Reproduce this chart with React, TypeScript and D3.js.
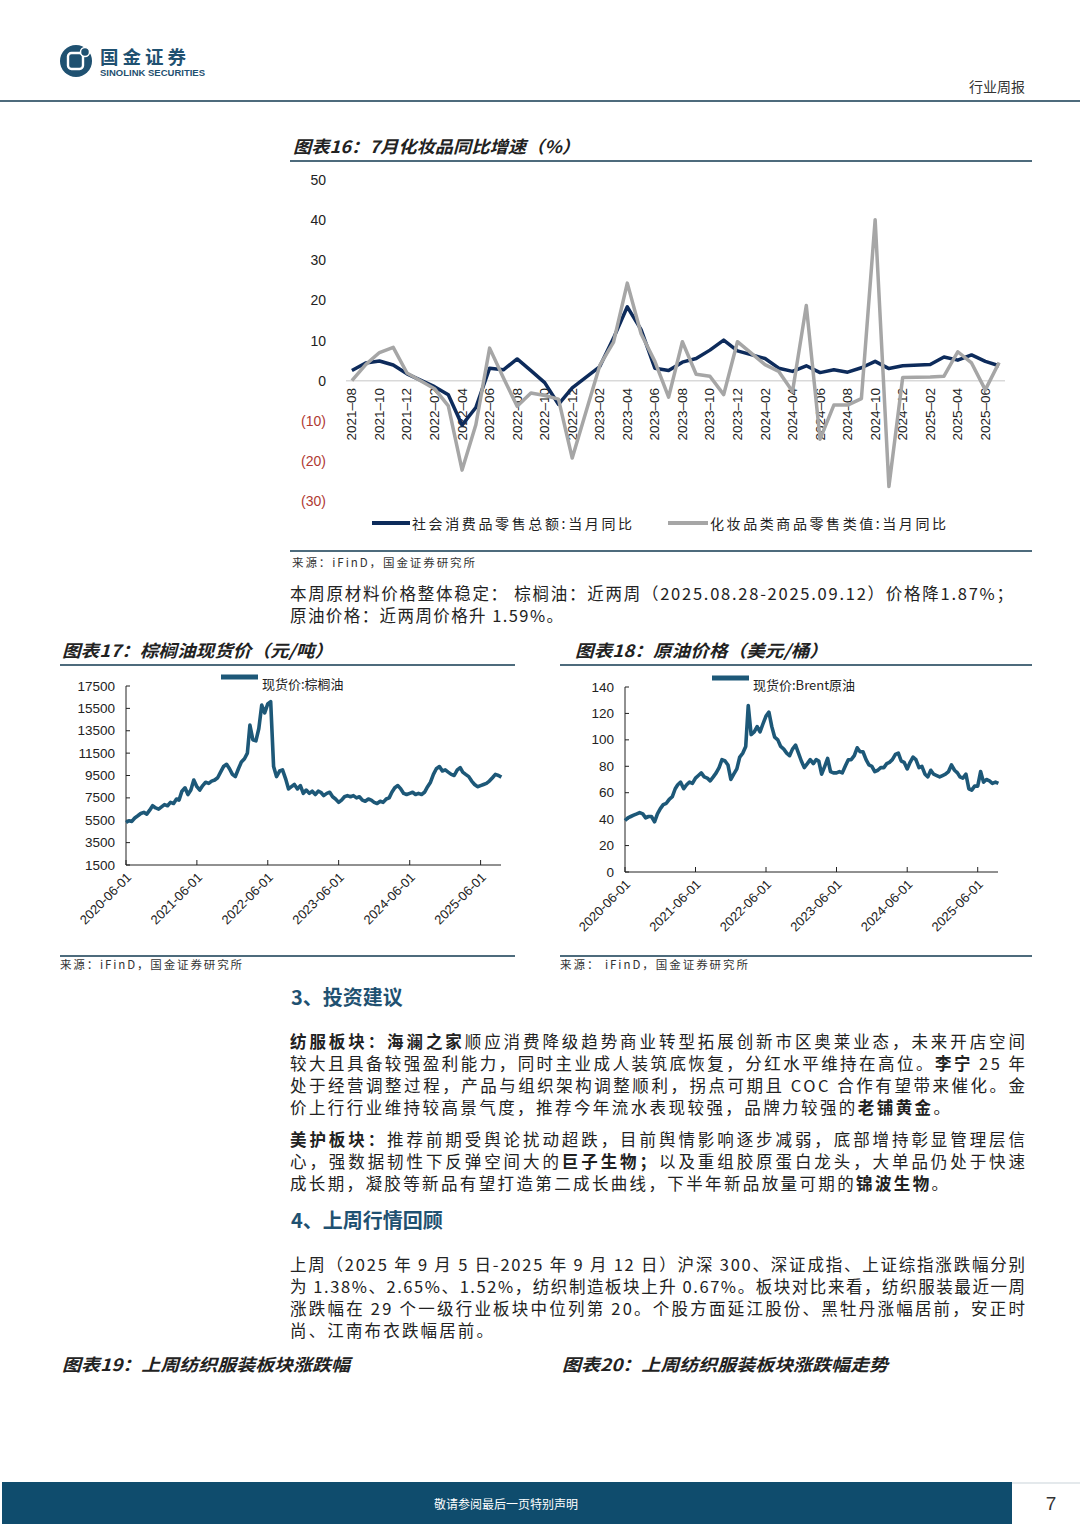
import React, { useEffect } from 'react'
import * as d3 from 'd3'

// 图表16：月度同比（%），1月无单独数据
const months16 = [
  '2021-08', '2021-09', '2021-10', '2021-11', '2021-12',
  '2022-01', '2022-02', '2022-03', '2022-04', '2022-05', '2022-06', '2022-07', '2022-08', '2022-09', '2022-10', '2022-11', '2022-12',
  '2023-01', '2023-02', '2023-03', '2023-04', '2023-05', '2023-06', '2023-07', '2023-08', '2023-09', '2023-10', '2023-11', '2023-12',
  '2024-01', '2024-02', '2024-03', '2024-04', '2024-05', '2024-06', '2024-07', '2024-08', '2024-09', '2024-10', '2024-11', '2024-12',
  '2025-01', '2025-02', '2025-03', '2025-04', '2025-05', '2025-06', '2025-07'
]
const retailYoY: (number | null)[] = [
  2.5, 4.4, 4.9, 3.9, 1.7,
  null, -1.5, -3.5, -11.1, -6.7, 3.1, 2.7, 5.4, 2.5, -0.5, -5.9, -1.8,
  null, 3.5, 10.6, 18.4, 12.7, 3.1, 2.5, 4.6, 5.5, 7.6, 10.1, 7.4,
  null, 5.5, 3.1, 2.3, 3.7, 2.0, 2.7, 2.1, 3.2, 4.8, 3.0, 3.7,
  null, 4.0, 5.9, 5.1, 6.4, 4.8, 3.7
]
const cosmeticsYoY: (number | null)[] = [
  0.0, 4.0, 7.0, 8.3, 1.9,
  null, -2.0, -6.3, -22.3, -11.0, 8.1, 0.7, -6.4, -3.1, -3.7, -4.6, -19.3,
  null, 3.8, 9.6, 24.3, 11.7, 4.8, -4.1, 9.7, 1.6, 1.1, -3.5, 9.7,
  null, 4.0, 2.3, -2.7, 18.7, -14.6, -6.1, -6.1, -4.5, 40.1, -26.4, 0.8,
  null, 0.9, 1.1, 7.2, 4.4, -2.3, 4.5
]
const yTicks16 = [-30, -20, -10, 0, 10, 20, 30, 40, 50]
const xLabels16 = months16.filter((_, i) => i % 2 === 0)

// 图表17 / 18：半月取样（每月1日、16日），起点 2020-06-01
const palmOil = [
  5300, 5450, 5400, 5700, 5900, 6100, 6200, 6050, 6400, 6800, 6600, 6500, 6700, 6900,
  6800, 7100, 7000, 7400, 7300, 8100, 8400, 7800, 8200, 9100, 8500, 8200, 8600, 8900, 8800, 9000, 9100, 9300, 9800, 10300, 10500, 10100, 9600, 9400,
  10100, 10700, 11000, 11500, 14000, 12700, 12600, 13700, 15800, 15100, 15900, 16100, 10300, 9400, 9900, 10000, 9200, 8300, 8500, 8700, 8300, 8600, 7900, 8200,
  7900, 8100, 7800, 8100, 8000, 7700, 7900, 8000, 7600, 7400, 7100, 7300, 7600, 7700, 7600, 7700, 7500, 7600, 7300, 7200, 7400, 7300, 7100, 7000,
  7200, 7100, 7400, 7500, 8000, 8400, 8600, 8300, 7900, 7800, 7900, 8000, 7800, 7900, 7800, 8000, 8500, 8900, 9600, 10100, 10300, 9900, 10000, 9800,
  9600, 9500, 10000, 10200, 9800, 9600, 9400, 9000, 8700, 8500, 8600, 8700, 8800, 9000, 9300, 9600, 9500, 9350
]
const brentOil = [
  39, 41, 42, 43, 44, 45, 44, 41, 42, 42, 38, 44, 48, 51,
  52, 55, 57, 63, 66, 68, 63, 66, 68, 67, 71, 73, 75, 72, 71, 69, 72, 75, 79, 85, 84, 81, 70, 74,
  78, 87, 90, 95, 126, 104, 106, 110, 106, 112, 118, 121, 110, 102, 100, 95, 93, 90, 88, 93, 96, 90, 84, 79,
  82, 85, 82, 85, 84, 74, 80, 86, 76, 75, 75, 76, 75, 80, 85, 85, 88, 94, 91, 91, 85, 81, 80, 76,
  77, 79, 79, 82, 83, 85, 89, 90, 84, 83, 78, 83, 87, 85, 79, 80, 74, 72, 77, 74, 73, 72, 73, 74,
  76, 81, 77, 75, 72, 71, 74, 63, 62, 65, 65, 76, 68, 70, 69, 67, 68, 67
]
const palmTicks = [1500, 3500, 5500, 7500, 9500, 11500, 13500, 15500, 17500]
const brentTicks = [0, 20, 40, 60, 80, 100, 120, 140]
const dateTicks = ['2020-06-01', '2021-06-01', '2022-06-01', '2023-06-01', '2024-06-01', '2025-06-01']
const axisStart = '2020-06-01'
const axisEnd = '2025-09-14'

const CJK = "'Noto Sans CJK SC', 'Noto Sans', sans-serif"
const LAT = "'Liberation Sans', Arial, sans-serif"
const TEAL = '#1f5171'
const RULE = '#4d6b7c'
const OIL = '#1d5878'

const parse = d3.timeParse('%Y-%m-%d')
const halfMonth = (i: number) => new Date(2020, 5 + Math.floor(i / 2), i % 2 ? 16 : 1)

type Part = [string, boolean?]

function JText({ x, y, w, parts, size = 16.5, color = '#222' }: { x: number; y: number; w?: number; parts: Part[]; size?: number; color?: string }) {
  return (
    <text x={x} y={y} dominantBaseline="central" fontFamily={CJK} fontSize={size} fill={color}
      textLength={w} lengthAdjust={w ? 'spacing' : undefined}>
      {parts.map(([t, b], i) => (
        <tspan key={i} fontWeight={b ? 700 : 400}>{t}</tspan>
      ))}
    </text>
  )
}

function Title({ x, y, w, text }: { x: number; y: number; w: number; text: string }) {
  return (
    <text x={x} y={y} dominantBaseline="central" fontFamily={CJK} fontSize={17} fontWeight={700}
      fontStyle="italic" fill="#222" textLength={w} lengthAdjust="spacingAndGlyphs">{text}</text>
  )
}

function Chart16() {
  const x = d3.scalePoint<string>().domain(months16).range([346, 1005]).padding(0.43)
  const y = d3.scaleLinear().domain([-30, 50]).range([501, 180])
  const path = (vals: (number | null)[]) => {
    const pts = months16.map((m, i) => [m, vals[i]] as [string, number | null]).filter(d => d[1] != null) as [string, number][]
    return d3.line<[string, number]>().x(d => x(d[0])!).y(d => y(d[1]))(pts) || ''
  }
  return (
    <g>
      <line x1={346} x2={1005} y1={y(0)} y2={y(0)} stroke="#d9d9d9" strokeWidth={1.5} />
      {yTicks16.map(t => (
        <text key={t} x={326} y={y(t)} textAnchor="end" dominantBaseline="central" fontFamily={LAT} fontSize={14}
          fill={t < 0 ? '#b03a33' : '#222'}>{t < 0 ? `(${-t})` : t}</text>
      ))}
      {xLabels16.map(m => (
        <text key={m} transform={`translate(${x(m)},${388}) rotate(-90)`} textAnchor="end" dominantBaseline="central"
          fontFamily={LAT} fontSize={13.5} fill="#222">{m.replace('-', '–')}</text>
      ))}
      <path d={path(retailYoY)} fill="none" stroke="#0d2b5b" strokeWidth={3.5} strokeLinejoin="round" />
      <path d={path(cosmeticsYoY)} fill="none" stroke="#a6a6a6" strokeWidth={3.5} strokeLinejoin="round" />
      <line x1={372} x2={410} y1={523} y2={523} stroke="#0d2b5b" strokeWidth={4} />
      <text x={412} y={523} dominantBaseline="central" fontFamily={CJK} fontSize={14} fill="#222" textLength={220} lengthAdjust="spacing">社会消费品零售总额:当月同比</text>
      <line x1={668} x2={708} y1={523} y2={523} stroke="#a6a6a6" strokeWidth={4} />
      <text x={710} y={523} dominantBaseline="central" fontFamily={CJK} fontSize={14} fill="#222" textLength={236} lengthAdjust="spacing">化妆品类商品零售类值:当月同比</text>
    </g>
  )
}

function OilChart({ x0, x1, yTop, yBot, data, ticks, domain, labelRight, legendX, legend }: {
  x0: number; x1: number; yTop: number; yBot: number; data: number[]; ticks: number[]; domain: [number, number];
  labelRight: number; legendX: number; legend: string
}) {
  const x = d3.scaleTime().domain([parse(axisStart)!, parse(axisEnd)!]).range([x0, x1])
  const y = d3.scaleLinear().domain(domain).range([yBot, yTop])
  const d = d3.line<number>().x((_, i) => x(halfMonth(i))).y(v => y(v))(data) || ''
  return (
    <g>
      <line x1={x0} x2={x0} y1={yTop} y2={yBot} stroke="#222" strokeWidth={1} />
      <line x1={x0} x2={x1} y1={yBot} y2={yBot} stroke="#222" strokeWidth={1} />
      {ticks.map(t => (
        <g key={t}>
          <line x1={x0} x2={x0 + 4} y1={y(t)} y2={y(t)} stroke="#222" />
          <text x={labelRight} y={y(t)} textAnchor="end" dominantBaseline="central" fontFamily={LAT} fontSize={13.5} fill="#222">{t}</text>
        </g>
      ))}
      {dateTicks.map(s => {
        const tx = x(parse(s)!)
        return (
          <g key={s}>
            <line x1={tx} x2={tx} y1={yBot} y2={yBot - 5} stroke="#222" />
            <text transform={`translate(${tx + 3},${yBot + 10}) rotate(-45)`} textAnchor="end" dominantBaseline="central"
              fontFamily={LAT} fontSize={13} fill="#222">{s}</text>
          </g>
        )
      })}
      <path d={d} fill="none" stroke={OIL} strokeWidth={3.6} strokeLinejoin="round" />
      <line x1={legendX} x2={legendX + 37} y1={yTop - 9} y2={yTop - 9} stroke={OIL} strokeWidth={5} />
      <text x={legendX + 41} y={yTop - 3} dominantBaseline="central" fontFamily={CJK} fontSize={13} fill="#222">{legend}</text>
    </g>
  )
}

export default function App() {
  useEffect(() => {
    document.body.style.margin = '0'
  }, [])
  return (
    <svg width={1080} height={1527} viewBox="0 0 1080 1527" style={{ display: 'block', background: '#fff' }}>
      {/* 页眉 */}
      <circle cx={76} cy={61} r={16} fill={TEAL} />
      <rect x={68} y={53} width={15} height={16} rx={3.5} fill="none" stroke="#fff" strokeWidth={2.4} />
      <circle cx={85} cy={52} r={4.5} fill={TEAL} stroke="#fff" strokeWidth={1.5} />
      <text x={100} y={55.5} dominantBaseline="central" fontFamily={CJK} fontSize={18.5} fontWeight={700} fill={TEAL} textLength={86} lengthAdjust="spacing">国金证券</text>
      <text x={100} y={72.5} dominantBaseline="central" fontFamily={LAT} fontSize={8.5} fontWeight={700} fill={TEAL} textLength={105} lengthAdjust="spacingAndGlyphs">SINOLINK SECURITIES</text>
      <text x={1025} y={86} textAnchor="end" dominantBaseline="central" fontFamily={CJK} fontSize={14} fill="#333">行业周报</text>
      <line x1={0} x2={1080} y1={101} y2={101} stroke={RULE} strokeWidth={2} />

      {/* 图表16 */}
      <Title x={293} y={145} w={287} text="图表16：7月化妆品同比增速（%）" />
      <line x1={290} x2={1032} y1={161} y2={161} stroke={RULE} strokeWidth={2} />
      <Chart16 />
      <line x1={290} x2={1032} y1={551} y2={551} stroke={RULE} strokeWidth={2} />
      <text x={292} y={562} dominantBaseline="central" fontFamily={CJK} fontSize={11.5} fill="#333" textLength={183} lengthAdjust="spacing">来源：iFinD，国金证券研究所</text>

      <JText x={290} y={593} w={723} parts={[['本周原材料价格整体稳定： 棕榈油：近两周（2025.08.28-2025.09.12）价格降1.87%；']]} />
      <JText x={290} y={615} w={273} parts={[['原油价格：近两周价格升 1.59%。']]} />

      {/* 图表17 / 18 */}
      <Title x={62} y={649} w={271} text="图表17：棕榈油现货价（元/吨）" />
      <Title x={575} y={649} w={253} text="图表18：原油价格（美元/桶）" />
      <line x1={60} x2={515} y1={665} y2={665} stroke={RULE} strokeWidth={2} />
      <line x1={560} x2={1032} y1={665} y2={665} stroke={RULE} strokeWidth={2} />
      <OilChart x0={126} x1={501} yTop={686} yBot={865} data={palmOil} ticks={palmTicks} domain={[1500, 17500]}
        labelRight={115} legendX={221} legend="现货价:棕榈油" />
      <OilChart x0={625} x1={998} yTop={687} yBot={872} data={brentOil} ticks={brentTicks} domain={[0, 140]}
        labelRight={614} legendX={712} legend="现货价:Brent原油" />
      <line x1={60} x2={515} y1={956} y2={956} stroke={RULE} strokeWidth={2} />
      <line x1={560} x2={1032} y1={956} y2={956} stroke={RULE} strokeWidth={2} />
      <text x={60} y={964} dominantBaseline="central" fontFamily={CJK} fontSize={11.5} fill="#333" textLength={182} lengthAdjust="spacing">来源：iFinD，国金证券研究所</text>
      <text x={560} y={964} dominantBaseline="central" fontFamily={CJK} fontSize={11.5} fill="#333" textLength={188} lengthAdjust="spacing">来源：  iFinD，国金证券研究所</text>

      {/* 3、投资建议 */}
      <text x={291} y={996} dominantBaseline="central" fontFamily={CJK} fontSize={20} fontWeight={700} fill={TEAL}>3、投资建议</text>
      <JText x={290} y={1041} w={735} parts={[['纺服板块：海澜之家', true], ['顺应消费降级趋势商业转型拓展创新市区奥莱业态，未来开店空间']]} />
      <JText x={290} y={1063} w={735} parts={[['较大且具备较强盈利能力，同时主业成人装筑底恢复，分红水平维持在高位。'], ['李宁', true], [' 25 年']]} />
      <JText x={290} y={1085} w={735} parts={[['处于经营调整过程，产品与组织架构调整顺利，拐点可期且 COC 合作有望带来催化。金']]} />
      <JText x={290} y={1107} w={660} parts={[['价上行行业维持较高景气度，推荐今年流水表现较强，品牌力较强的'], ['老铺黄金', true], ['。']]} />
      <JText x={290} y={1139} w={735} parts={[['美护板块：', true], ['推荐前期受舆论扰动超跌，目前舆情影响逐步减弱，底部增持彰显管理层信']]} />
      <JText x={290} y={1161} w={735} parts={[['心，强数据韧性下反弹空间大的'], ['巨子生物；', true], ['以及重组胶原蛋白龙头，大单品仍处于快速']]} />
      <JText x={290} y={1183} w={658} parts={[['成长期，凝胶等新品有望打造第二成长曲线，下半年新品放量可期的'], ['锦波生物', true], ['。']]} />

      {/* 4、上周行情回顾 */}
      <text x={291} y={1219} dominantBaseline="central" fontFamily={CJK} fontSize={20} fontWeight={700} fill={TEAL}>4、上周行情回顾</text>
      <JText x={290} y={1264} w={735} parts={[['上周（2025 年 9 月 5 日-2025 年 9 月 12 日）沪深 300、深证成指、上证综指涨跌幅分别']]} />
      <JText x={290} y={1286} w={735} parts={[['为 1.38%、2.65%、1.52%，纺织制造板块上升 0.67%。板块对比来看，纺织服装最近一周']]} />
      <JText x={290} y={1308} w={735} parts={[['涨跌幅在 29 个一级行业板块中位列第 20。个股方面延江股份、黑牡丹涨幅居前，安正时']]} />
      <JText x={290} y={1330} w={203} parts={[['尚、江南布衣跌幅居前。']]} />

      <Title x={62} y={1363} w={288} text="图表19：上周纺织服装板块涨跌幅" />
      <Title x={562} y={1363} w={326} text="图表20：上周纺织服装板块涨跌幅走势" />

      {/* 页脚 */}
      <rect x={2} y={1482} width={1010} height={42} fill="#0f4c6d" />
      <line x1={1012} x2={1080} y1={1483} y2={1483} stroke="#c9d3d9" strokeWidth={1} />
      <text x={506} y={1503} textAnchor="middle" dominantBaseline="central" fontFamily={CJK} fontSize={12} fill="#fff">敬请参阅最后一页特别声明</text>
      <text x={1051} y={1503} textAnchor="middle" dominantBaseline="central" fontFamily={LAT} fontSize={19} fill="#333">7</text>
    </svg>
  )
}
